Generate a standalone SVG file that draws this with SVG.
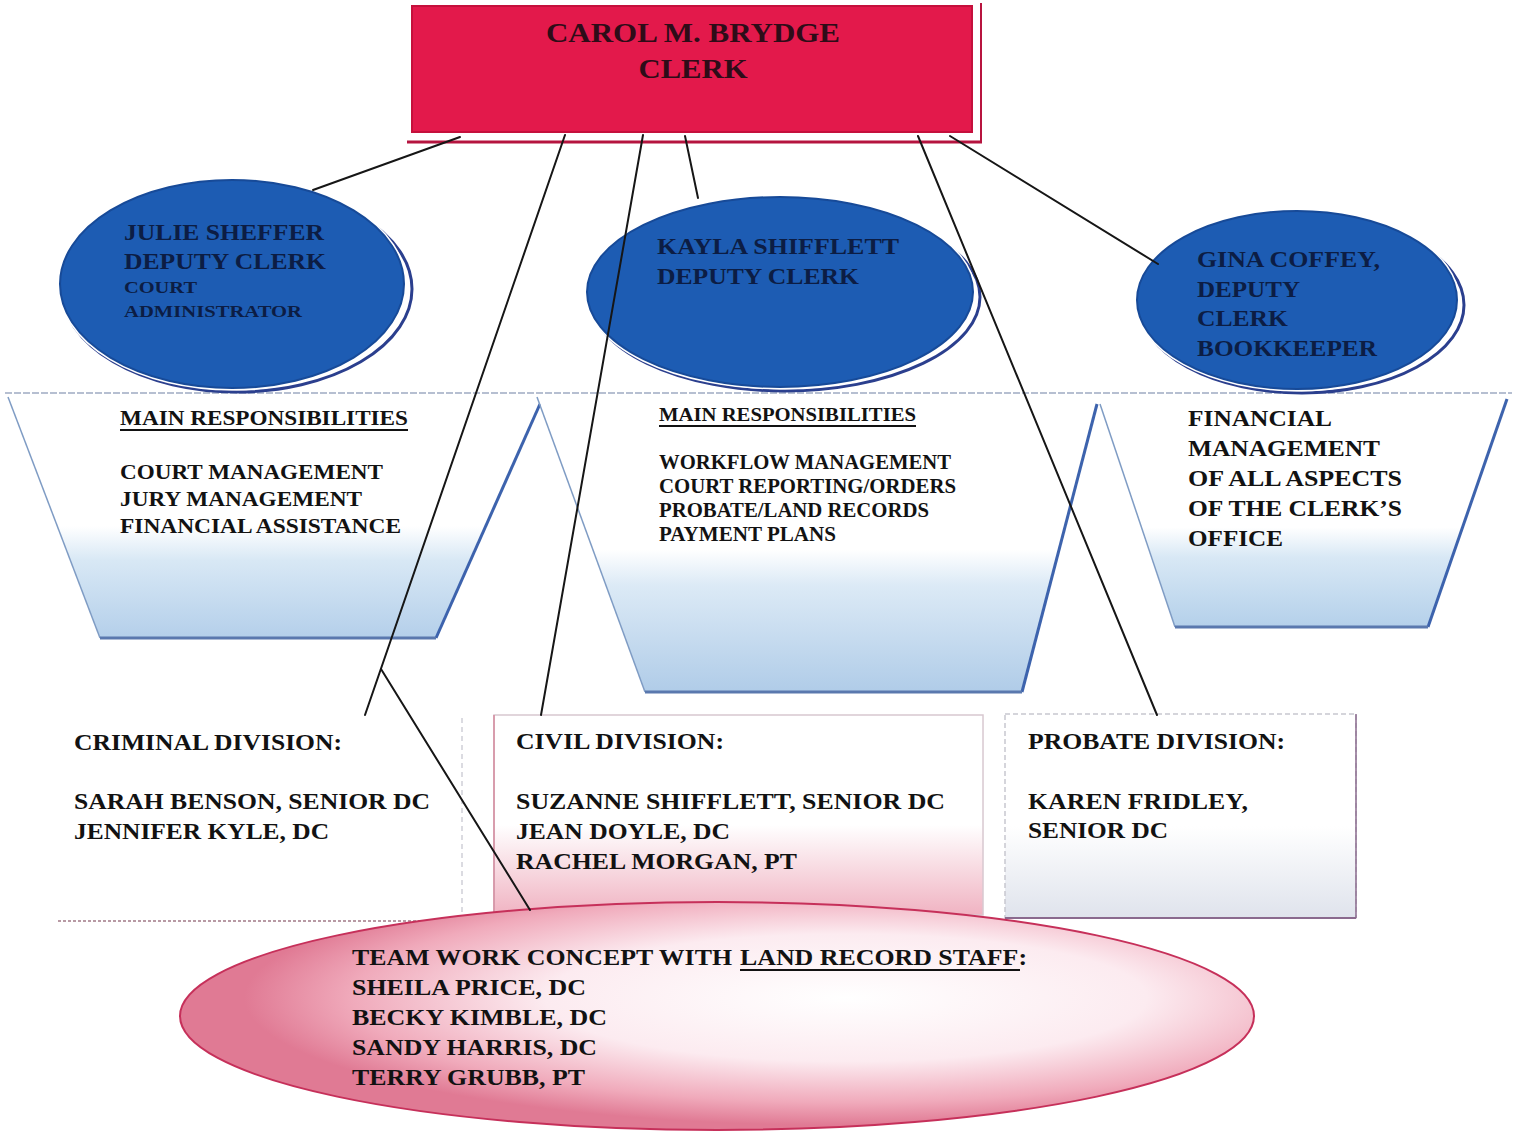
<svg xmlns="http://www.w3.org/2000/svg" width="1517" height="1135" viewBox="0 0 1517 1135">
  <style>
    .t { font-family: "Liberation Serif", "Times New Roman", serif; font-weight: bold; }
    .navy { fill: #0c1d44; }
    .ink { fill: #121212; }
    .conn { stroke: #161616; stroke-width: 2; fill: none; stroke-linecap: round; }
    .ell { fill: #1d5cb3; stroke: #174a98; stroke-width: 2; }
    .ellShadow { fill: none; stroke: #2b3f8e; stroke-width: 3; }
    .sideThin { stroke: #7f9cc4; stroke-width: 1.5; fill: none; }
    .sideBold { stroke: #3d63ad; stroke-width: 3; fill: none; }
    .base { stroke: #5a78ae; stroke-width: 3; fill: none; }
    .ul { stroke: #121212; stroke-width: 2; }
  </style>
  <defs>
    <linearGradient id="cupL" x1="0" y1="0" x2="0" y2="1">
      <stop offset="0" stop-color="#ffffff"/>
      <stop offset="0.54" stop-color="#ffffff"/>
      <stop offset="0.68" stop-color="#d8e8f5"/>
      <stop offset="1" stop-color="#b4cfea"/>
    </linearGradient>
    <linearGradient id="cupM" x1="0" y1="0" x2="0" y2="1">
      <stop offset="0" stop-color="#ffffff"/>
      <stop offset="0.52" stop-color="#ffffff"/>
      <stop offset="0.64" stop-color="#dceaf6"/>
      <stop offset="1" stop-color="#b0cce8"/>
    </linearGradient>
    <linearGradient id="cupR" x1="0" y1="0" x2="0" y2="1">
      <stop offset="0" stop-color="#ffffff"/>
      <stop offset="0.57" stop-color="#ffffff"/>
      <stop offset="0.7" stop-color="#d8e8f5"/>
      <stop offset="1" stop-color="#b4d0ea"/>
    </linearGradient>
    <linearGradient id="civilFill" x1="0" y1="0" x2="0" y2="1">
      <stop offset="0" stop-color="#ffffff"/>
      <stop offset="0.55" stop-color="#ffffff"/>
      <stop offset="1" stop-color="#f0b3c2"/>
    </linearGradient>
    <linearGradient id="probateFill" x1="0" y1="0" x2="0" y2="1">
      <stop offset="0" stop-color="#ffffff"/>
      <stop offset="0.55" stop-color="#ffffff"/>
      <stop offset="1" stop-color="#dfe3ec"/>
    </linearGradient>
    <radialGradient id="pinkFill" cx="0.62" cy="0.42" r="0.56">
      <stop offset="0" stop-color="#ffffff"/>
      <stop offset="0.5" stop-color="#fcebf0"/>
      <stop offset="0.82" stop-color="#f0aabb"/>
      <stop offset="1" stop-color="#e07a94"/>
    </radialGradient>
  </defs>

  <rect width="1517" height="1135" fill="#ffffff"/>

  <!-- Clerk -->
  <g id="node-clerk">
    <line x1="981" y1="3" x2="981" y2="142" stroke="#b8143f" stroke-width="2"/>
    <line x1="407" y1="142" x2="982" y2="142" stroke="#b5143f" stroke-width="3"/>
    <rect x="412" y="6" width="560" height="126" fill="#e3194b" stroke="#c5103c" stroke-width="2"/>
    <text class="t" x="693" y="42" font-size="28" fill="#2e0c18" text-anchor="middle" textLength="294" lengthAdjust="spacingAndGlyphs">CAROL M. BRYDGE</text>
    <text class="t" x="693" y="78" font-size="28" fill="#2e0c18" text-anchor="middle" textLength="109" lengthAdjust="spacingAndGlyphs">CLERK</text>
  </g>

  <!-- Responsibility cups -->
  <line x1="5" y1="393" x2="1512" y2="393" stroke="#9eabc2" stroke-width="1.5" stroke-dasharray="7 2"/>

  <g id="node-resp-court">
    <polygon points="8,395 540,395 436,638 100,638" fill="url(#cupL)"/>
    <line class="sideThin" x1="8" y1="397" x2="100" y2="638"/>
    <line class="sideBold" x1="540" y1="404" x2="436" y2="638"/>
    <line class="base" x1="100" y1="638" x2="436" y2="638"/>
    <text class="t ink" x="120" y="425" font-size="21" textLength="288" lengthAdjust="spacingAndGlyphs">MAIN RESPONSIBILITIES</text>
    <line class="ul" x1="120" y1="430" x2="408" y2="430"/>
    <text class="t ink" x="120" y="479" font-size="22" textLength="263" lengthAdjust="spacingAndGlyphs">COURT MANAGEMENT</text>
    <text class="t ink" x="120" y="506" font-size="22" textLength="242" lengthAdjust="spacingAndGlyphs">JURY MANAGEMENT</text>
    <text class="t ink" x="120" y="533" font-size="22" textLength="281" lengthAdjust="spacingAndGlyphs">FINANCIAL ASSISTANCE</text>
  </g>

  <g id="node-resp-workflow">
    <polygon points="537,395 1097,395 1022,692 645,692" fill="url(#cupM)"/>
    <line class="sideThin" x1="537" y1="397" x2="645" y2="692"/>
    <line class="sideBold" x1="1097" y1="404" x2="1022" y2="692"/>
    <line class="base" x1="645" y1="692" x2="1022" y2="692"/>
    <text class="t ink" x="659" y="421" font-size="19" textLength="257" lengthAdjust="spacingAndGlyphs">MAIN RESPONSIBILITIES</text>
    <line class="ul" x1="659" y1="426" x2="916" y2="426"/>
    <text class="t ink" x="659" y="469" font-size="20" textLength="292" lengthAdjust="spacingAndGlyphs">WORKFLOW MANAGEMENT</text>
    <text class="t ink" x="659" y="493" font-size="20" textLength="297" lengthAdjust="spacingAndGlyphs">COURT REPORTING/ORDERS</text>
    <text class="t ink" x="659" y="517" font-size="20" textLength="270" lengthAdjust="spacingAndGlyphs">PROBATE/LAND RECORDS</text>
    <text class="t ink" x="659" y="541" font-size="20" textLength="177" lengthAdjust="spacingAndGlyphs">PAYMENT PLANS</text>
  </g>

  <g id="node-resp-finance">
    <polygon points="1099,395 1508,395 1428,627 1175,627" fill="url(#cupR)"/>
    <line class="sideThin" x1="1100" y1="404" x2="1175" y2="627"/>
    <line class="sideBold" x1="1507" y1="399" x2="1428" y2="627"/>
    <line class="base" x1="1175" y1="627" x2="1428" y2="627"/>
    <text class="t ink" x="1188" y="426" font-size="24" textLength="144" lengthAdjust="spacingAndGlyphs">FINANCIAL</text>
    <text class="t ink" x="1188" y="456" font-size="24" textLength="192" lengthAdjust="spacingAndGlyphs">MANAGEMENT</text>
    <text class="t ink" x="1188" y="486" font-size="24" textLength="214" lengthAdjust="spacingAndGlyphs">OF ALL ASPECTS</text>
    <text class="t ink" x="1188" y="516" font-size="24" textLength="214" lengthAdjust="spacingAndGlyphs">OF THE CLERK’S</text>
    <text class="t ink" x="1188" y="546" font-size="24" textLength="95" lengthAdjust="spacingAndGlyphs">OFFICE</text>
  </g>

  <!-- Deputy clerks -->
  <g id="node-julie">
    <ellipse class="ellShadow" cx="237" cy="289" rx="175" ry="103"/>
    <ellipse cx="232" cy="284" rx="172" ry="104" fill="#1d5cb3" stroke="#ffffff" stroke-width="5"/>
    <ellipse class="ell" cx="232" cy="284" rx="172" ry="104"/>
    <text class="t navy" x="124" y="240" font-size="24" textLength="200" lengthAdjust="spacingAndGlyphs">JULIE SHEFFER</text>
    <text class="t navy" x="124" y="269" font-size="24" textLength="202" lengthAdjust="spacingAndGlyphs">DEPUTY CLERK</text>
    <text class="t navy" x="124" y="293" font-size="17" textLength="73" lengthAdjust="spacingAndGlyphs">COURT</text>
    <text class="t navy" x="124" y="317" font-size="17" textLength="178" lengthAdjust="spacingAndGlyphs">ADMINISTRATOR</text>
  </g>

  <g id="node-kayla">
    <ellipse class="ellShadow" cx="785" cy="297" rx="195" ry="94"/>
    <ellipse cx="780" cy="292" rx="193" ry="95" fill="#1d5cb3" stroke="#ffffff" stroke-width="5"/>
    <ellipse class="ell" cx="780" cy="292" rx="193" ry="95"/>
    <text class="t navy" x="657" y="254" font-size="24" textLength="242" lengthAdjust="spacingAndGlyphs">KAYLA SHIFFLETT</text>
    <text class="t navy" x="657" y="284" font-size="24" textLength="202" lengthAdjust="spacingAndGlyphs">DEPUTY CLERK</text>
  </g>

  <g id="node-gina">
    <ellipse class="ellShadow" cx="1302" cy="305" rx="162" ry="88"/>
    <ellipse cx="1297" cy="300" rx="160" ry="89" fill="#1d5cb3" stroke="#ffffff" stroke-width="5"/>
    <ellipse class="ell" cx="1297" cy="300" rx="160" ry="89"/>
    <text class="t navy" x="1197" y="267" font-size="24" textLength="183" lengthAdjust="spacingAndGlyphs">GINA COFFEY,</text>
    <text class="t navy" x="1197" y="297" font-size="24" textLength="103" lengthAdjust="spacingAndGlyphs">DEPUTY</text>
    <text class="t navy" x="1197" y="326" font-size="24" textLength="91" lengthAdjust="spacingAndGlyphs">CLERK</text>
    <text class="t navy" x="1197" y="356" font-size="24" textLength="180" lengthAdjust="spacingAndGlyphs">BOOKKEEPER</text>
  </g>

  <!-- Divisions -->
  <g id="node-criminal">
    <line x1="462" y1="718" x2="462" y2="915" stroke="#d0d0d8" stroke-width="1.5" stroke-dasharray="5 4"/>
    <line x1="58" y1="921" x2="430" y2="921" stroke="#b89aa4" stroke-width="2" stroke-dasharray="3 2"/>
    <text class="t ink" x="74" y="750" font-size="23" textLength="268" lengthAdjust="spacingAndGlyphs">CRIMINAL DIVISION:</text>
    <text class="t ink" x="74" y="809" font-size="23" textLength="356" lengthAdjust="spacingAndGlyphs">SARAH BENSON, SENIOR DC</text>
    <text class="t ink" x="74" y="839" font-size="23" textLength="255" lengthAdjust="spacingAndGlyphs">JENNIFER KYLE, DC</text>
  </g>

  <g id="node-civil">
    <rect x="494" y="715" width="489" height="200" fill="url(#civilFill)" stroke="#d8c8d0" stroke-width="1.5"/>
    <line x1="494" y1="715" x2="494" y2="915" stroke="#d48a9e" stroke-width="1.5"/>
    <text class="t ink" x="516" y="749" font-size="23" textLength="208" lengthAdjust="spacingAndGlyphs">CIVIL DIVISION:</text>
    <text class="t ink" x="516" y="809" font-size="23" textLength="429" lengthAdjust="spacingAndGlyphs">SUZANNE SHIFFLETT, SENIOR DC</text>
    <text class="t ink" x="516" y="839" font-size="23" textLength="214" lengthAdjust="spacingAndGlyphs">JEAN DOYLE, DC</text>
    <text class="t ink" x="516" y="869" font-size="23" textLength="281" lengthAdjust="spacingAndGlyphs">RACHEL MORGAN, PT</text>
  </g>

  <g id="node-probate">
    <rect x="1005" y="714" width="351" height="204" fill="url(#probateFill)" stroke="#c8c8d0" stroke-width="1.5" stroke-dasharray="5 3"/>
    <line x1="1356" y1="714" x2="1356" y2="918" stroke="#8a6a8e" stroke-width="1.5"/>
    <line x1="1005" y1="918" x2="1356" y2="918" stroke="#8a6a8e" stroke-width="2"/>
    <text class="t ink" x="1028" y="749" font-size="23" textLength="257" lengthAdjust="spacingAndGlyphs">PROBATE DIVISION:</text>
    <text class="t ink" x="1028" y="809" font-size="23" textLength="220" lengthAdjust="spacingAndGlyphs">KAREN FRIDLEY,</text>
    <text class="t ink" x="1028" y="838" font-size="23" textLength="140" lengthAdjust="spacingAndGlyphs">SENIOR DC</text>
  </g>

  <g id="node-landrecords">
    <ellipse cx="717" cy="1016" rx="537" ry="114" fill="url(#pinkFill)" stroke="#c6305a" stroke-width="2"/>
    <text class="t ink" x="352" y="965" font-size="23" textLength="380" lengthAdjust="spacingAndGlyphs">TEAM WORK CONCEPT WITH</text>
    <text class="t ink" x="740" y="965" font-size="23" textLength="287" lengthAdjust="spacingAndGlyphs">LAND RECORD STAFF:</text>
    <line class="ul" x1="740" y1="970" x2="1020" y2="970"/>
    <text class="t ink" x="352" y="995" font-size="23" textLength="234" lengthAdjust="spacingAndGlyphs">SHEILA PRICE, DC</text>
    <text class="t ink" x="352" y="1025" font-size="23" textLength="255" lengthAdjust="spacingAndGlyphs">BECKY KIMBLE, DC</text>
    <text class="t ink" x="352" y="1055" font-size="23" textLength="245" lengthAdjust="spacingAndGlyphs">SANDY HARRIS, DC</text>
    <text class="t ink" x="352" y="1085" font-size="23" textLength="233" lengthAdjust="spacingAndGlyphs">TERRY GRUBB, PT</text>
  </g>

  <!-- Reporting lines from the clerk -->
  <g id="connectors">
    <line class="conn" x1="460" y1="137" x2="313" y2="190"/>
    <line class="conn" x1="565" y1="135" x2="365" y2="715"/>
    <line class="conn" x1="643" y1="135" x2="541" y2="715"/>
    <line class="conn" x1="685" y1="136" x2="698" y2="198"/>
    <line class="conn" x1="918" y1="136" x2="1157" y2="715"/>
    <line class="conn" x1="950" y1="136" x2="1158" y2="264"/>
    <line class="conn" x1="381" y1="669" x2="530" y2="910"/>
  </g>
</svg>
